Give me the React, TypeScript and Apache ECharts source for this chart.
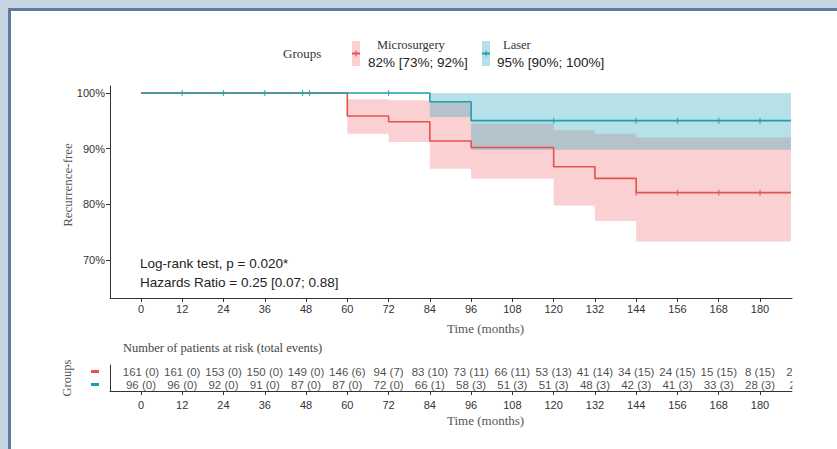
import React, { useEffect, useRef } from 'react';
import * as echarts from 'echarts';

const groups = ['Microsurgery', 'Laser'];
const legendStats = ['82% [73%; 92%]', '95% [90%; 100%]'];
const timeTicks = [0, 12, 24, 36, 48, 60, 72, 84, 96, 108, 120, 132, 144, 156, 168, 180];
const survTicks = [70, 80, 90, 100];

const microTimes = [0, 60, 72, 84, 96, 120, 132, 144, 189];
const microSurv = [100, 95.87, 94.85, 91.38, 90.2, 86.76, 84.67, 82.1, 82.1];
const microBandTimes = [60, 72, 84, 96, 120, 132, 144, 189];
const microUpper = [98.9, 98.7, 98.4, 94.5, 93.3, 92.7, 92.0, 92.0];
const microLower = [92.7, 91.2, 86.4, 84.6, 79.8, 77.0, 73.3, 73.3];

const laserTimes = [0, 84, 96, 189];
const laserSurv = [100, 98.44, 95.03, 95.03];
const laserBandTimes = [84, 96, 189];
const laserUpper = [100, 100, 100];
const laserLower = [95.7, 89.8, 89.8];

const laserCensorTimes = [12, 24, 36, 47, 49, 72, 120, 144, 156, 168, 180];
const laserCensorSurv = [100, 100, 100, 100, 100, 100, 95.03, 95.03, 95.03, 95.03, 95.03];
const microCensorTimes = [144, 156, 168, 180];
const microCensorSurv = [82.1, 82.1, 82.1, 82.1];

const riskTimes = [0, 12, 24, 36, 48, 60, 72, 84, 96, 108, 120, 132, 144, 156, 168, 180, 192];
const microRisk = ['161 (0)', '161 (0)', '153 (0)', '150 (0)', '149 (0)', '146 (6)', '94 (7)', '83 (10)', '73 (11)', '66 (11)', '53 (13)', '41 (14)', '34 (15)', '24 (15)', '15 (15)', '8 (15)', '2 (15)'];
const laserRisk = ['96 (0)', '96 (0)', '92 (0)', '91 (0)', '87 (0)', '87 (0)', '72 (0)', '66 (1)', '58 (3)', '51 (3)', '51 (3)', '48 (3)', '42 (3)', '41 (3)', '33 (3)', '28 (3)', '2 (3)'];

const RED = '#E3524D';
const TEAL = '#1E9EAF';
const RED_FILL = 'rgba(240,100,105,0.30)';
const TEAL_FILL = 'rgba(45,168,188,0.34)';
const SANS = '"Liberation Sans", Arial, sans-serif';
const SERIF = '"Liberation Serif", "Times New Roman", serif';

function bandSeries(times: number[], upper: number[], lower: number[], fill: string) {
  return {
    type: 'custom',
    xAxisIndex: 0,
    yAxisIndex: 0,
    silent: true,
    clip: true,
    z: 1,
    data: times.map((t, i) => [t, lower[i], upper[i]]),
    encode: { x: 0, y: [1, 2] },
    renderItem: (params: any, api: any) => {
      if (params.dataIndex !== 0) return null;
      const up: number[][] = [];
      const lo: number[][] = [];
      for (let i = 0; i < times.length; i++) {
        const t = times[i];
        if (i > 0) {
          up.push(api.coord([t, upper[i - 1]]));
          lo.push(api.coord([t, lower[i - 1]]));
        }
        up.push(api.coord([t, upper[i]]));
        lo.push(api.coord([t, lower[i]]));
      }
      return { type: 'polygon', shape: { points: up.concat(lo.reverse()) }, style: { fill } };
    },
  };
}

export default function App() {
  const ref = useRef<HTMLDivElement>(null);
  useEffect(() => {
    if (!ref.current) return;
    const chart = echarts.init(ref.current, null, { renderer: 'svg' });
    const axisLineStyle = { color: '#333', width: 1 };
    const option: any = {
      animation: false,
      grid: [
        { left: 110, right: 45, top: 86, height: 212 },
        { left: 110, right: 45, top: 365, height: 26 },
      ],
      xAxis: [
        {
          type: 'value', gridIndex: 0, min: -9, max: 189.3,
          axisLine: { show: true, onZero: false, lineStyle: axisLineStyle },
          axisTick: { show: true, customValues: timeTicks, length: 4, lineStyle: axisLineStyle },
          axisLabel: { customValues: timeTicks, fontSize: 11, color: '#333', fontFamily: SANS, margin: 5 },
          splitLine: { show: false },
        },
        {
          type: 'value', gridIndex: 1, min: -9, max: 189.3,
          axisLine: { show: true, onZero: false, lineStyle: axisLineStyle },
          axisTick: { show: true, customValues: timeTicks, length: 4, lineStyle: axisLineStyle },
          axisLabel: { customValues: timeTicks, fontSize: 11, color: '#333', fontFamily: SANS, margin: 8 },
          splitLine: { show: false },
        },
      ],
      yAxis: [
        {
          type: 'value', gridIndex: 0, min: 63.17, max: 101.26,
          axisLine: { show: true, onZero: false, lineStyle: axisLineStyle },
          axisTick: { show: true, customValues: survTicks, length: 4, lineStyle: axisLineStyle },
          axisLabel: { customValues: survTicks, formatter: '{value}%', fontSize: 11, color: '#333', fontFamily: SANS, margin: 5 },
          splitLine: { show: false },
        },
        {
          type: 'category', gridIndex: 1, data: ['Laser', 'Microsurgery'],
          axisLine: { show: true, onZero: false, lineStyle: axisLineStyle },
          axisTick: { show: false },
          axisLabel: {
            interval: 0,
            margin: 11,
            formatter: (v: string) => (v === 'Microsurgery' ? '{m|}' : '{l|}'),
            rich: {
              m: { width: 8, height: 3, backgroundColor: RED },
              l: { width: 8, height: 3, backgroundColor: TEAL },
            },
          },
          splitLine: { show: false },
        },
      ],
      series: [
        bandSeries(microBandTimes, microUpper, microLower, RED_FILL),
        bandSeries(laserBandTimes, laserUpper, laserLower, TEAL_FILL),
        {
          type: 'line', name: groups[0], xAxisIndex: 0, yAxisIndex: 0, step: 'end', showSymbol: false, z: 3,
          data: microTimes.map((t, i) => [t, microSurv[i]]),
          lineStyle: { color: RED, width: 1.6 }, itemStyle: { color: RED },
        },
        {
          type: 'line', name: groups[1], xAxisIndex: 0, yAxisIndex: 0, step: 'end', showSymbol: false, z: 4,
          data: laserTimes.map((t, i) => [t, laserSurv[i]]),
          lineStyle: { color: TEAL, width: 1.6 }, itemStyle: { color: TEAL },
        },
        {
          type: 'scatter', xAxisIndex: 0, yAxisIndex: 0, symbol: 'rect', symbolSize: [1.2, 6], z: 5,
          data: microCensorTimes.map((t, i) => [t, microCensorSurv[i]]), itemStyle: { color: RED },
        },
        {
          type: 'scatter', xAxisIndex: 0, yAxisIndex: 0, symbol: 'rect', symbolSize: [1.2, 6], z: 5,
          data: laserCensorTimes.map((t, i) => [t, laserCensorSurv[i]]), itemStyle: { color: TEAL },
        },
        {
          type: 'scatter', xAxisIndex: 1, yAxisIndex: 1, symbolSize: 0, clip: false,
          data: riskTimes.map((t, i) => [t, 1, microRisk[i]]),
          label: { show: true, position: 'inside', formatter: (p: any) => p.data[2], fontSize: 11.5, lineHeight: 12, color: '#1a1a1a', fontFamily: SANS },
        },
        {
          type: 'scatter', xAxisIndex: 1, yAxisIndex: 1, symbolSize: 0, clip: false,
          data: riskTimes.map((t, i) => [t, 0, laserRisk[i]]),
          label: { show: true, position: 'inside', formatter: (p: any) => p.data[2], fontSize: 11.5, lineHeight: 12, color: '#1a1a1a', fontFamily: SANS },
        },
      ],
      graphic: [
        { type: 'rect', z: 100, silent: true, shape: { x: 792.5, y: 360, width: 45, height: 40 }, style: { fill: '#fff' } },
        // legend
        { type: 'text', x: 283, y: 53, style: { text: 'Groups', font: `13px ${SERIF}`, fill: '#333', textVerticalAlign: 'middle' } },
        { type: 'rect', shape: { x: 352, y: 41, width: 8, height: 25 }, style: { fill: RED_FILL } },
        { type: 'line', shape: { x1: 352, y1: 53.5, x2: 360, y2: 53.5 }, style: { stroke: RED, lineWidth: 2 } },
        { type: 'line', shape: { x1: 356, y1: 50.5, x2: 356, y2: 56.5 }, style: { stroke: RED, lineWidth: 1 } },
        { type: 'text', x: 377, y: 45, style: { text: groups[0], font: `12.5px ${SERIF}`, fill: '#333', textVerticalAlign: 'middle' } },
        { type: 'text', x: 368, y: 62, style: { text: legendStats[0], font: `13.5px ${SANS}`, fill: '#222', textVerticalAlign: 'middle' } },
        { type: 'rect', shape: { x: 482, y: 41, width: 8, height: 25 }, style: { fill: TEAL_FILL } },
        { type: 'line', shape: { x1: 482, y1: 53.5, x2: 490, y2: 53.5 }, style: { stroke: TEAL, lineWidth: 2 } },
        { type: 'line', shape: { x1: 486, y1: 50.5, x2: 486, y2: 56.5 }, style: { stroke: TEAL, lineWidth: 1 } },
        { type: 'text', x: 503, y: 45, style: { text: groups[1], font: `12.5px ${SERIF}`, fill: '#333', textVerticalAlign: 'middle' } },
        { type: 'text', x: 497, y: 62, style: { text: legendStats[1], font: `13.5px ${SANS}`, fill: '#222', textVerticalAlign: 'middle' } },
        // annotations
        { type: 'text', x: 140, y: 263, style: { text: 'Log-rank test, p = 0.020*', font: `13.5px ${SANS}`, fill: '#222', textVerticalAlign: 'middle' } },
        { type: 'text', x: 140, y: 282, style: { text: 'Hazards Ratio = 0.25 [0.07; 0.88]', font: `13.5px ${SANS}`, fill: '#222', textVerticalAlign: 'middle' } },
        // axis titles
        { type: 'text', x: 67, y: 185, rotation: Math.PI / 2, style: { text: 'Recurrence-free', font: `13px ${SERIF}`, fill: '#555', textAlign: 'center', textVerticalAlign: 'middle' } },
        { type: 'text', x: 447, y: 328, style: { text: 'Time (months)', font: `13px ${SERIF}`, fill: '#555', textVerticalAlign: 'middle' } },
        { type: 'text', x: 123, y: 348, style: { text: 'Number of patients at risk (total events)', font: `12.5px ${SERIF}`, fill: '#444', textVerticalAlign: 'middle' } },
        { type: 'text', x: 67, y: 378, rotation: Math.PI / 2, style: { text: 'Groups', font: `12.5px ${SERIF}`, fill: '#555', textAlign: 'center', textVerticalAlign: 'middle' } },
        { type: 'text', x: 447, y: 420, style: { text: 'Time (months)', font: `13px ${SERIF}`, fill: '#555', textVerticalAlign: 'middle' } },
      ],
    };
    chart.setOption(option);
    return () => chart.dispose();
  }, []);

  return (
    <div style={{ position: 'absolute', left: 0, top: 0, width: 837, height: 449, background: '#c6d4e3', overflow: 'hidden' }}>
      <div style={{ position: 'absolute', left: 8, top: 8, width: 900, height: 500, boxSizing: 'border-box', background: '#fff', borderLeft: '3px solid #5a7ea1', borderTop: '3px solid #5a7ea1' }} />
      <div ref={ref} style={{ position: 'absolute', left: 0, top: 0, width: 837, height: 449 }} />
    </div>
  );
}
